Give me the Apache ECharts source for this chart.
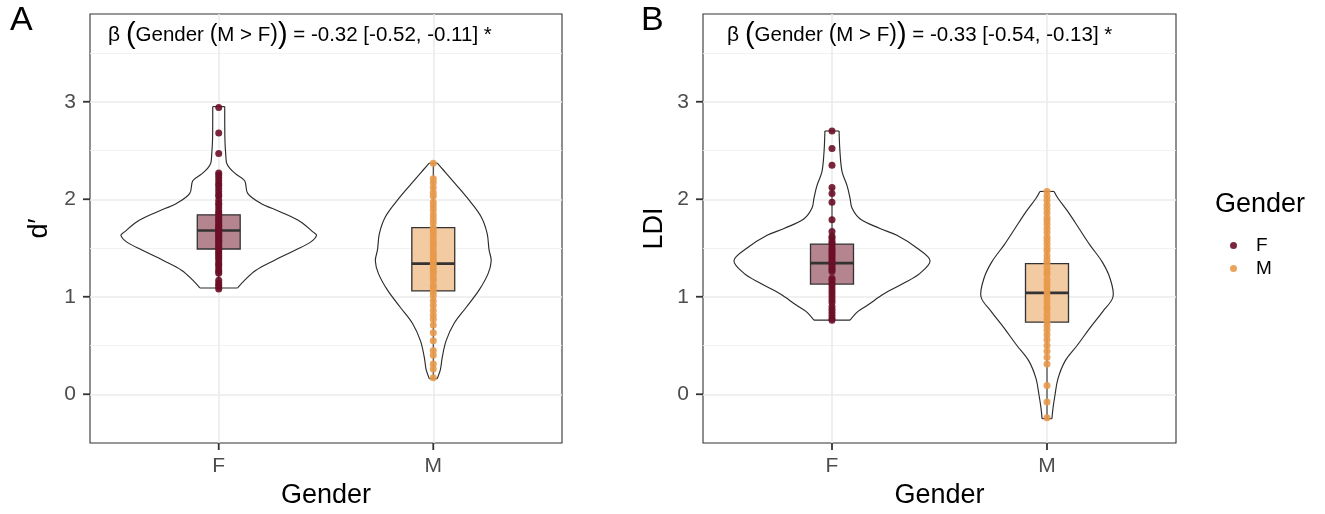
<!DOCTYPE html>
<html><head><meta charset="utf-8">
<script src="https://cdn.jsdelivr.net/npm/echarts@6/dist/echarts.min.js"></script>
<style>html,body{margin:0;padding:0;background:#fff}#c{width:1325px;height:514px}</style>
</head><body><div id="c"></div>
<script>
// ---------- data ----------
const categories = ['F', 'M'];
const xTicks = [1, 2];
const yTicks = [0, 1, 2, 3];
const yMinorTicks = [0.5, 1.5, 2.5, 3.5];
const panelLetters = ['A', 'B'];
const yTitles = ['d\u2032', 'LDI'];
const xTitle = 'Gender';
const betaText = ['-0.32 [-0.52, -0.11] *', '-0.33 [-0.54, -0.13] *'];

// raw points (Panel A: d')
const dotsA_F = [2.94, 2.68, 2.47, 2.27, 2.25, 2.22, 2.19, 2.16, 2.14, 2.11, 2.08, 2.05, 2.03, 1.99, 1.96, 1.94, 1.91, 1.88, 1.86, 1.84, 1.82, 1.80, 1.79, 1.77, 1.75, 1.73, 1.72, 1.70, 1.69, 1.68, 1.66, 1.65, 1.63, 1.62, 1.60, 1.58, 1.57, 1.55, 1.53, 1.51, 1.50, 1.48, 1.46, 1.44, 1.42, 1.40, 1.38, 1.35, 1.33, 1.31, 1.28, 1.26, 1.24, 1.17, 1.14, 1.12, 1.10, 1.08];
const dotsA_M = [2.37, 2.21, 2.17, 2.12, 2.07, 2.03, 1.97, 1.93, 1.89, 1.84, 1.80, 1.76, 1.71, 1.68, 1.65, 1.61, 1.57, 1.54, 1.51, 1.47, 1.44, 1.41, 1.38, 1.36, 1.33, 1.30, 1.27, 1.24, 1.20, 1.17, 1.12, 1.09, 1.05, 1.01, 0.96, 0.91, 0.86, 0.81, 0.77, 0.71, 0.63, 0.55, 0.45, 0.40, 0.31, 0.26, 0.17];
// raw points (Panel B: LDI)
const dotsB_F = [2.70, 2.52, 2.35, 2.12, 2.06, 1.97, 1.79, 1.67, 1.62, 1.60, 1.57, 1.55, 1.53, 1.50, 1.48, 1.46, 1.44, 1.42, 1.40, 1.38, 1.36, 1.34, 1.32, 1.30, 1.28, 1.26, 1.19, 1.17, 1.14, 1.12, 1.09, 1.06, 1.03, 1.00, 0.97, 0.94, 0.90, 0.87, 0.84, 0.81, 0.78, 0.76];
const dotsB_M = [2.08, 2.03, 1.99, 1.94, 1.90, 1.86, 1.81, 1.78, 1.74, 1.70, 1.66, 1.61, 1.58, 1.54, 1.50, 1.47, 1.42, 1.38, 1.35, 1.30, 1.26, 1.23, 1.18, 1.14, 1.10, 1.06, 1.02, 0.98, 0.94, 0.90, 0.87, 0.82, 0.78, 0.74, 0.70, 0.66, 0.61, 0.56, 0.50, 0.44, 0.38, 0.31, 0.09, -0.08, -0.24];

// box stats [min, q1, median, q3, max]
const boxA_F = [1.08, 1.49, 1.68, 1.84, 2.28];
const boxA_M = [0.16, 1.06, 1.34, 1.71, 2.37];
const boxB_F = [0.75, 1.13, 1.345, 1.54, 2.12];
const boxB_M = [-0.25, 0.74, 1.04, 1.34, 2.08];

// violin profiles [value, half-width in category units]
const violinA_F = [[2.95,0.028],[2.80,0.028],[2.60,0.029],[2.45,0.033],[2.37,0.037],[2.32,0.051],[2.26,0.079],[2.19,0.121],[2.06,0.135],[1.96,0.195],[1.87,0.288],[1.77,0.381],[1.66,0.442],[1.63,0.456],[1.56,0.428],[1.48,0.358],[1.37,0.256],[1.27,0.172],[1.17,0.121],[1.09,0.088]];
const violinA_M = [[2.37,0.019],[2.30,0.047],[2.16,0.102],[1.99,0.167],[1.82,0.223],[1.65,0.251],[1.48,0.260],[1.37,0.270],[1.24,0.256],[1.07,0.214],[0.89,0.153],[0.73,0.098],[0.55,0.060],[0.38,0.042],[0.25,0.033],[0.16,0.019]];
const violinB_F = [[2.70,0.033],[2.49,0.037],[2.28,0.047],[2.14,0.070],[2.01,0.084],[1.91,0.093],[1.80,0.130],[1.70,0.223],[1.63,0.302],[1.50,0.395],[1.37,0.456],[1.24,0.409],[1.14,0.335],[1.03,0.242],[0.91,0.163],[0.85,0.121],[0.76,0.084]];
const violinB_M = [[2.08,0.033],[2.01,0.051],[1.87,0.098],[1.70,0.149],[1.53,0.200],[1.36,0.256],[1.19,0.293],[1.00,0.307],[0.85,0.260],[0.68,0.200],[0.50,0.140],[0.34,0.084],[0.16,0.051],[-0.01,0.037],[-0.14,0.028],[-0.25,0.023]];

// ---------- style ----------
const FONT = '"Liberation Sans", Arial, Helvetica, sans-serif';
const colF = '#6B0F28', colM = '#E8994A';
const fillF = '#B5858F', fillM = '#F3CBA3';
const X_MIN = 0.4, X_MAX = 2.6, Y_MIN = -0.5, Y_MAX = 3.9;
const TICK_LEN = 7;
const grids = [
  {left: 90, top: 14, width: 472, height: 429},
  {left: 703, top: 14, width: 473, height: 429}
];

const chart = echarts.init(document.getElementById('c'), null, {renderer: 'canvas'});

function violinSeries(gi, xPos, prof) {
  return {
    type: 'custom', xAxisIndex: gi, yAxisIndex: gi * 2, z: 2, silent: true,
    data: prof.map(r => [xPos, r[0], r[1]]),
    renderItem: function (params, api) {
      if (params.dataIndex !== 0) return null;
      const n = params.dataInsideLength;
      const right = [], left = [];
      for (let i = 0; i < n; i++) {
        const x = api.value(0, i), v = api.value(1, i), h = api.value(2, i);
        right.push(api.coord([x + h, v]));
        left.push(api.coord([x - h, v]));
      }
      const st = {stroke: '#2B2B2B', lineWidth: 1.15, fill: null};
      return {type: 'group', children: [
        {type: 'polyline', shape: {points: right, smooth: 0.35}, style: st},
        {type: 'polyline', shape: {points: left, smooth: 0.35}, style: st},
        {type: 'line', shape: {x1: left[0][0], y1: left[0][1], x2: right[0][0], y2: right[0][1]}, style: st},
        {type: 'line', shape: {x1: left[n-1][0], y1: left[n-1][1], x2: right[n-1][0], y2: right[n-1][1]}, style: st}
      ]};
    }
  };
}

function boxSeries(gi, xPos, s, fill) {
  return {
    type: 'custom', xAxisIndex: gi, yAxisIndex: gi * 2, z: 3, silent: true,
    data: [[xPos, s[0], s[1], s[2], s[3], s[4]]],
    renderItem: function (params, api) {
      const x = api.value(0);
      const pMin = api.coord([x, api.value(1)]), pQ1 = api.coord([x, api.value(2)]);
      const pMed = api.coord([x, api.value(3)]), pQ3 = api.coord([x, api.value(4)]);
      const pMax = api.coord([x, api.value(5)]);
      const half = api.size([0.1, 0])[0];
      const ln = {stroke: '#333333', lineWidth: 1.1};
      return {type: 'group', children: [
        {type: 'line', shape: {x1: pMin[0], y1: pMin[1], x2: pQ1[0], y2: pQ1[1]}, style: ln},
        {type: 'line', shape: {x1: pQ3[0], y1: pQ3[1], x2: pMax[0], y2: pMax[1]}, style: ln},
        {type: 'rect', shape: {x: pQ3[0] - half, y: pQ3[1], width: half * 2, height: pQ1[1] - pQ3[1]},
          style: {fill: fill, stroke: '#333333', lineWidth: 1.3}},
        {type: 'line', shape: {x1: pMed[0] - half, y1: pMed[1], x2: pMed[0] + half, y2: pMed[1]},
          style: {stroke: '#333333', lineWidth: 2.6}, z2: 20}
      ]};
    }
  };
}

// axis tick marks (outside the panel), placed through the axis scales
function tickSeries(gi) {
  const d = yTicks.map(v => [X_MIN, v, 0]).concat(xTicks.map(c => [c, Y_MIN, 1]));
  return {
    type: 'custom', xAxisIndex: gi, yAxisIndex: gi * 2, z: 6, silent: true, clip: false,
    data: d,
    renderItem: function (params, api) {
      const p = api.coord([api.value(0), api.value(1)]);
      const st = {stroke: '#333333', lineWidth: 1.8};
      if (api.value(2) === 0) {
        return {type: 'line', shape: {x1: p[0] - TICK_LEN, y1: p[1], x2: p[0], y2: p[1]}, style: st};
      }
      return {type: 'line', shape: {x1: p[0], y1: p[1], x2: p[0], y2: p[1] + TICK_LEN}, style: st};
    }
  };
}

function dotSeries(gi, name, xPos, vals, col) {
  return {
    type: 'scatter', name: name, xAxisIndex: gi, yAxisIndex: gi * 2, z: 4, silent: true,
    symbol: 'circle', symbolSize: 7,
    itemStyle: {color: col, opacity: 0.9},
    data: vals.map(v => [xPos, v])
  };
}

const xAxes = grids.map((g, i) => ({
  type: 'value', gridIndex: i, min: X_MIN, max: X_MAX, position: 'bottom',
  axisLine: {show: false, onZero: false},
  axisTick: {show: false, customValues: xTicks},
  axisLabel: {customValues: xTicks, formatter: v => categories[Math.round(v) - 1], margin: 13,
    fontSize: 21, color: '#4D4D4D', fontFamily: FONT},
  splitLine: {show: true, lineStyle: {color: '#EBEBEB', width: 1.6}}
}));

const yAxes = [];
grids.forEach((g, i) => {
  yAxes.push({
    type: 'value', gridIndex: i, min: Y_MIN, max: Y_MAX, position: 'left',
    axisLine: {show: false, onZero: false},
    axisTick: {show: false, customValues: yTicks},
    axisLabel: {customValues: yTicks, margin: 14, fontSize: 21, color: '#4D4D4D', fontFamily: FONT},
    splitLine: {show: true, lineStyle: {color: '#EBEBEB', width: 1.6}}
  });
  yAxes.push({
    type: 'value', gridIndex: i, min: Y_MIN, max: Y_MAX, position: 'left',
    axisLine: {show: false, onZero: false},
    axisTick: {show: false, customValues: yMinorTicks},
    axisLabel: {show: false, customValues: yMinorTicks},
    splitLine: {show: true, lineStyle: {color: '#F0F0F0', width: 0.9}}
  });
});

function betaRich(i) {
  return '{b|\u03B2 }{p|(}{g|Gender }{q|(}{g|M > F}{q|)}{p|)}{g| = ' + betaText[i] + '}';
}
const rich = {
  b: {fontSize: 21, fontFamily: FONT, fill: '#000'},
  p: {fontSize: 29, fontFamily: FONT, fill: '#000'},
  q: {fontSize: 23, fontFamily: FONT, fill: '#000'},
  g: {fontSize: 20.5, fontFamily: FONT, fill: '#000'}
};

const graphics = [];
grids.forEach((g, i) => {
  graphics.push({type: 'text', left: i === 0 ? 10 : 641, top: 4,
    style: {text: panelLetters[i], fontSize: 34, fontFamily: FONT, fill: '#000'}});
  graphics.push({type: 'text', x: g.left + (i === 0 ? 18 : 24), y: 35,
    style: {text: betaRich(i), rich: rich, verticalAlign: 'middle', align: 'left'}, z: 10});
  graphics.push({type: 'text', x: i === 0 ? 40 : 655, y: g.top + g.height / 2, rotation: Math.PI / 2,
    style: {text: yTitles[i], fontSize: 27, fontFamily: FONT, fill: '#000', align: 'center', verticalAlign: 'middle'}});
  graphics.push({type: 'text', x: g.left + g.width / 2, y: 496,
    style: {text: xTitle, fontSize: 27, fontFamily: FONT, fill: '#000', align: 'center', verticalAlign: 'middle'}});
});
graphics.push({type: 'text', left: 1215, top: 191,
  style: {text: 'Gender', fontSize: 27, fontFamily: FONT, fill: '#000'}});

chart.setOption({
  animation: false,
  backgroundColor: '#ffffff',
  grid: grids.map(g => Object.assign({show: true, borderColor: '#333333', borderWidth: 1.1,
    backgroundColor: 'transparent', containLabel: false, outerBoundsMode: 'none'}, g)),
  xAxis: xAxes,
  yAxis: yAxes,
  legend: {
    data: categories, orient: 'vertical', left: 1225, top: 231, icon: 'circle',
    itemWidth: 7, itemHeight: 7, itemGap: 4, selectedMode: false,
    textStyle: {fontSize: 19, color: '#000', fontFamily: FONT, lineHeight: 17, padding: [0, 0, 0, 14]}
  },
  graphic: graphics,
  series: [
    violinSeries(0, 1, violinA_F), violinSeries(0, 2, violinA_M),
    violinSeries(1, 1, violinB_F), violinSeries(1, 2, violinB_M),
    boxSeries(0, 1, boxA_F, fillF), boxSeries(0, 2, boxA_M, fillM),
    boxSeries(1, 1, boxB_F, fillF), boxSeries(1, 2, boxB_M, fillM),
    dotSeries(0, 'F', 1, dotsA_F, colF), dotSeries(0, 'M', 2, dotsA_M, colM),
    dotSeries(1, 'F', 1, dotsB_F, colF), dotSeries(1, 'M', 2, dotsB_M, colM),
    tickSeries(0), tickSeries(1)
  ]
});
</script></body></html>
